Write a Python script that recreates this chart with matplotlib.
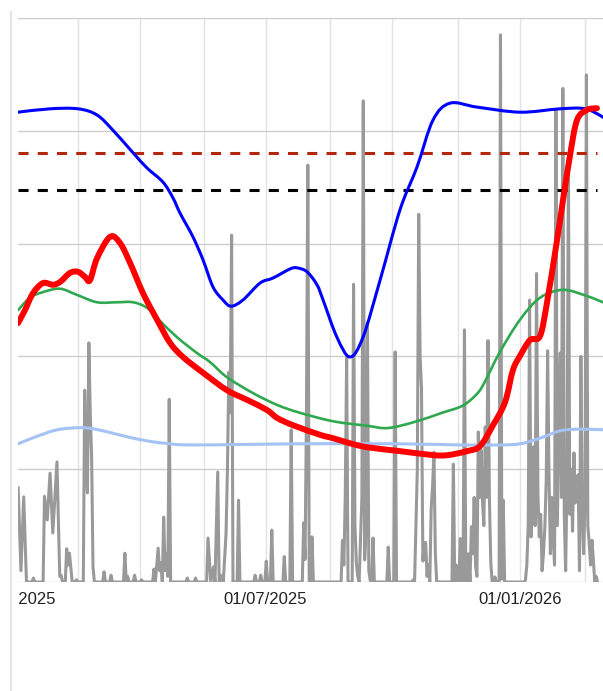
import datetime as dt
import numpy as np
import matplotlib
matplotlib.use("Agg")
import matplotlib.pyplot as plt
from matplotlib.patches import Rectangle, PathPatch
from matplotlib.lines import Line2D
from matplotlib.path import Path

plt.rcParams['font.family'] = ['Liberation Sans', 'DejaVu Sans']

# ---------------- data (x = days since 2025-01-01) ----------------
START = dt.date(2025, 1, 1)

gray_days = [3, 5, 7, 9, 13, 14, 15, 21, 22, 24, 26, 28, 31, 33, 34, 35, 37, 38, 39, 40, 42, 44, 45, 46,
             50, 51, 52, 53, 54, 55, 56, 57, 58, 64, 65, 66, 69, 70, 71, 79, 80, 81, 82, 83, 86, 87, 88,
             91, 92, 93, 100, 101, 102, 104, 105, 106, 107, 108, 109, 110, 111, 112, 113, 124, 125, 126,
             130, 131, 132, 139, 140, 142, 144, 145, 147, 148, 149, 150, 151, 153, 154, 155, 156, 157, 158,
             161, 162, 163, 173, 174, 175, 177, 178, 179, 181, 182, 183, 185, 186, 187, 194, 195, 196,
             199, 200, 201, 208, 209, 210, 211, 212, 213, 214, 215, 216, 236, 237, 238, 239, 240, 241,
             244, 245, 246, 247, 248, 249, 251, 252, 253, 254, 255, 256, 257, 258, 259, 260, 269, 270,
             271, 274, 275, 276, 287, 288, 289, 290, 291, 292, 293, 294, 295, 296, 297, 298, 299, 300,
             301, 302, 303, 304, 305, 316, 317, 318, 319, 320, 321, 322, 323, 324, 325, 326, 327, 328,
             329, 330, 331, 332, 333, 334, 335, 336, 337, 338, 339, 340, 341, 342, 343, 344, 345, 346,
             347, 348, 350, 351, 352, 353, 354, 368, 369, 370, 371, 372, 373, 374, 375, 376, 377, 378,
             379, 380, 381, 382, 383, 384, 385, 386, 387, 388, 389, 390, 391, 392, 393, 394, 395, 396,
             397, 398, 399, 400, 401, 402, 403, 404, 405, 406, 407, 408, 409, 410, 411, 412, 413, 414,
             415, 416, 417, 418, 419, 420, 421]
gray_vals = [16.7, 2, 15.1, 0, 0, 0.7, 0, 0, 15.2, 11, 19.3, 8.7, 21.3, 1, 1.2, 0, 0, 5.9, 3, 5.1, 0, 0, 0.4, 0,
             0, 34, 20, 15.8, 42.4, 30, 22.2, 2.7, 0, 0, 1.8, 0, 0, 1.2, 0, 0, 5.1, 0, 1, 0, 0, 1.2, 0,
             0, 0.4, 0, 0, 2.3, 0, 6, 2, 3.4, 0, 11.5, 2, 5, 1, 32.4, 0, 0, 0.7, 0,
             0, 0.7, 0, 0, 7.8, 0, 2.7, 0, 19.5, 0, 1.2, 0.7, 0, 8.7, 20, 37.2, 30, 61.5, 0,
             0, 14.5, 0, 0, 1.2, 0, 0, 1.2, 0, 0, 3.7, 0, 0, 9.2, 0, 0, 4.5, 0,
             0, 27, 0, 0, 10.5, 4, 30, 73.9, 0, 0, 8, 0, 0, 7.4, 3, 15, 39.9, 0,
             0, 52.8, 10, 3.4, 1, 0, 15, 85.3, 3.9, 10, 46, 2, 0.3, 0, 7.8, 0, 0, 6.2,
             0, 0, 40.8, 0, 0, 0.4, 0, 10.3, 20, 65.2, 40, 34.4, 3.7, 6.9, 7, 1, 3.1, 0,
             13, 17, 23, 5, 0, 0, 20.9, 0, 3, 0, 0, 7.7, 0, 0, 44.7, 0, 0, 5,
             0, 9.8, 5, 15, 3, 1, 26.6, 15, 23.4, 14.5, 10, 27.5, 15, 42.8, 15, 3.4, 0, 0,
             0.9, 0, 0, 97, 0.5, 14.5, 0, 0, 0.3, 3, 10, 50, 8, 12, 24, 10, 54.7, 15.6,
             8, 12, 2, 5, 9.6, 18, 41, 19, 5, 15, 8, 3, 83.6, 10, 25, 40.6, 15, 87.5,
             12, 2, 18, 75.2, 12, 20, 9, 22.9, 14, 18, 19, 2, 40, 12, 5, 15, 89.9, 10,
             7, 3, 7.4, 4, 0, 1, 0]

red_days = [2.9, 7.9, 13.7, 20.9, 28.1, 33.2, 40.4, 46.2, 51.2, 54.8, 59.9, 69.3, 76.5, 83.7, 93.1, 103.2,
            112.6, 121.9, 136.4, 153.7, 168.1, 182.5, 189.8, 201.3, 220.8, 230.2, 242.4, 254.7, 278.5,
            302.3, 313.1, 326.8, 336.2, 345.6, 354.3, 360.0, 365.1, 372.3, 379.5, 384.6, 391.8, 396.1,
            401.2, 406.2, 413.4, 420.6]
red_vals = [45.9, 48.2, 51.2, 53.0, 52.7, 53.2, 54.8, 55.0, 54.1, 53.5, 57.4, 61.2, 60.1, 56.6, 51.2, 46.5,
            42.4, 39.9, 37.1, 34.0, 32.3, 30.5, 29.1, 27.8, 26.1, 25.5, 24.6, 23.9, 23.2,
            22.5, 22.5, 23.2, 24.1, 27.8, 31.9, 37.6, 40.1, 42.9, 43.6, 49.6, 60.6, 67.7,
            75.7, 81.9, 83.7, 84.0]

blue_days = [2.9, 26.0, 46.2, 59.9, 71.4, 85.9, 96.0, 107.5, 114.7, 119.8, 129.1, 136.4, 143.6, 150.8,
             156.6, 165.2, 177.5, 186.9, 199.1, 204.2, 211.4, 218.6, 223.0, 233.0, 242.4, 251.8, 264.1,
             278.5, 290.8, 302.3, 314.6, 334.1, 365.1, 394.0, 412.0, 425.0, 431.5]
blue_vals = [83.3, 83.9, 83.9, 82.8, 80.1, 76.1, 73.4, 70.9, 68.1, 65.4, 61.2, 57.1, 52.3, 50.0,
             48.9, 50.0, 53.0, 53.9, 55.5, 55.7, 55.0, 52.7, 50.0, 43.4, 39.9, 43.4, 53.5,
             66.0, 73.6, 81.9, 84.9, 84.2, 83.3, 83.9, 83.9, 82.4, 81.0]

green_days = [2.9, 11.5, 20.9, 33.2, 45.5, 59.9, 74.3, 85.9, 96.0, 105.3, 117.6, 132.0, 141.4, 153.7,
              172.4, 189.8, 206.3, 230.2, 254.7, 269.8, 289.3, 308.8, 323.2, 332.6, 338.4, 350.6, 365.1,
              379.5, 396.1, 413.4, 425.0, 431.5]
green_vals = [48.2, 50.4, 51.4, 52.0, 50.9, 49.6, 49.6, 49.6, 48.6, 46.3, 43.4, 40.6, 39.0, 36.3,
              33.5, 31.4, 30.0, 28.5, 27.7, 27.3, 28.4, 30.0, 31.2, 33.0, 34.9, 40.8, 46.5,
              50.4, 51.8, 50.7, 49.6, 49.1]

lightblue_days = [2.9, 15.2, 29.6, 41.8, 53.4, 67.8, 82.3, 96.7, 108.9, 129.1, 206.3, 278.5, 321.8,
                  350.6, 365.1, 379.5, 394.0, 406.2, 425.0, 431.5]
lightblue_vals = [24.5, 25.7, 26.9, 27.3, 27.3, 26.6, 25.7, 25.0, 24.6, 24.3, 24.5, 24.5, 24.3,
                  24.3, 24.5, 25.5, 26.8, 27.1, 27.0, 27.0]

upper_limit = 76.1
lower_limit = 69.5

label_dates = [dt.date(2025, 1, 1), dt.date(2025, 7, 1), dt.date(2026, 1, 1)]
grid_days = [46.2, 90.9, 137.1, 181.8, 228.0, 272.7, 320.3, 365.1, 412.0]
y_grid = [0, 20, 40, 60, 80, 100]


def smooth_path(xs, ys):
    """Cubic Bezier path through the given points (like a 'function' curve type)."""
    pts = np.column_stack([xs, ys]).astype(float)
    n = len(pts)
    verts = [pts[0]]
    codes = [Path.MOVETO]
    for i in range(n - 1):
        p0 = pts[i - 1] if i > 0 else pts[i]
        p1 = pts[i]
        p2 = pts[i + 1]
        p3 = pts[i + 2] if i + 2 < n else pts[i + 1]
        c1 = p1 + (p2 - p0) / 6.0
        c2 = p2 - (p3 - p1) / 6.0
        verts += [c1, c2, p2]
        codes += [Path.CURVE4] * 3
    return Path(np.array(verts), codes)


# ---------------- figure ----------------
W, H = 603, 691
fig = plt.figure(figsize=(W / 100, H / 100), dpi=100)
fig.patch.set_facecolor('white')

left_px, right_px, top_px, bottom_px = 18, 640, 18, 582
ax = fig.add_axes([left_px / W, (H - bottom_px) / H, (right_px - left_px) / W, (bottom_px - top_px) / H])
px_per_day = 1.386
origin_px = 14
ax.set_xlim((left_px - origin_px) / px_per_day, (right_px - origin_px) / px_per_day)
ax.set_ylim(0, 100)

for s in ax.spines.values():
    s.set_visible(False)
ax.set_xticks(grid_days)
ax.set_yticks(y_grid)
ax.tick_params(length=0, labelbottom=False, labelleft=False)
ax.grid(axis='x', color='#e2e2e2', lw=1.0)
ax.grid(axis='y', color='#cccccc', lw=1.0)
ax.set_axisbelow(True)

ax.plot(gray_days, gray_vals, color='#999999', lw=2.2, solid_joinstyle='round', zorder=2)

x0, x1 = min(gray_days[0], red_days[0]), red_days[-1]
ax.plot([x0, x1], [upper_limit, upper_limit], color='#b3270f', lw=2.2,
        dashes=(3.3, 3.0), dash_capstyle='butt', zorder=3)
ax.plot([x0, x1], [lower_limit, lower_limit], color='#000000', lw=2.2,
        dashes=(3.3, 3.0), dash_capstyle='butt', zorder=3)

for xs, ys, col, lw, z in [(blue_days, blue_vals, '#0000ff', 2.2, 4),
                           (green_days, green_vals, '#2fa84f', 1.9, 4),
                           (lightblue_days, lightblue_vals, '#a4c2f4', 2.2, 4),
                           (red_days, red_vals, '#ff0000', 4.3, 5)]:
    ax.add_patch(PathPatch(smooth_path(xs, ys), facecolor='none', edgecolor=col, lw=lw,
                           capstyle='round', joinstyle='round', zorder=z))

# date labels (the first one is partly cut off at the plot's left edge)
clip = Rectangle((left_px / W, 0), 1, 1, transform=fig.transFigure, facecolor='none', edgecolor='none')
fig.add_artist(clip)
clip.set_visible(False)
for d in label_dates:
    day = (d - START).days
    t = ax.annotate(d.strftime('%d/%m/%Y'), xy=(day, 0), xycoords=('data', 'axes fraction'),
                    xytext=(0, -7), textcoords='offset points', ha='center', va='top',
                    fontsize=12, color='#222222', annotation_clip=False)
    t.set_clip_path(clip)

# thin container border at far left
fig.add_artist(Line2D([10.5 / W, 10.5 / W], [0, (H - 12) / H], transform=fig.transFigure,
                      color='#e4e4e4', lw=1.6))

fig.savefig('out.png', dpi=100, facecolor='white')
